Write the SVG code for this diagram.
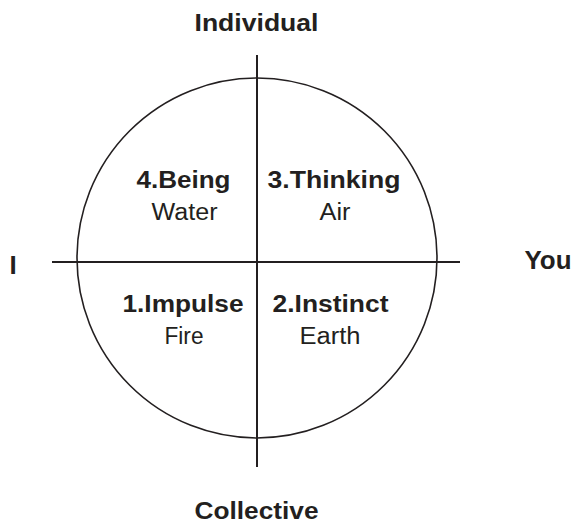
<svg xmlns="http://www.w3.org/2000/svg" width="573" height="523" viewBox="0 0 573 523">
<style>
.t{font-family:"Liberation Sans",Arial,Helvetica,sans-serif;fill:#231f20;font-size:23px}
.b{font-weight:bold}
.m{text-anchor:middle}
.ln{stroke:#231f20;fill:none}
</style>
<rect width="573" height="523" fill="#ffffff"/>
<g id="connectors">
<circle class="ln" cx="257" cy="258" r="180" stroke-width="1.6"/>
<line class="ln" x1="257" y1="55" x2="257" y2="467" stroke-width="2"/>
<line class="ln" x1="52" y1="262" x2="460" y2="262" stroke-width="2"/>
</g>
<g id="axis-individual"><text class="t b m" x="256.5" y="31" textLength="124" lengthAdjust="spacingAndGlyphs">Individual</text></g>
<g id="axis-collective"><text class="t b m" x="256.5" y="519" textLength="124" lengthAdjust="spacingAndGlyphs">Collective</text></g>
<g id="axis-i"><text class="t b" x="9.5" y="274" style="font-size:26px">I</text></g>
<g id="axis-you"><text class="t b" x="524.5" y="269" style="font-size:25px" textLength="47" lengthAdjust="spacingAndGlyphs">You</text></g>
<g id="q4">
<text class="t b m" x="183.5" y="188" textLength="94" lengthAdjust="spacingAndGlyphs">4.Being</text>
<text class="t m" x="184.5" y="220" textLength="66" lengthAdjust="spacingAndGlyphs">Water</text>
</g>
<g id="q3">
<text class="t b m" x="334" y="188" textLength="133" lengthAdjust="spacingAndGlyphs">3.Thinking</text>
<text class="t m" x="335" y="220" textLength="31" lengthAdjust="spacingAndGlyphs">Air</text>
</g>
<g id="q1">
<text class="t b m" x="183" y="312" textLength="121" lengthAdjust="spacingAndGlyphs">1.Impulse</text>
<text class="t m" x="184" y="344" textLength="39" lengthAdjust="spacingAndGlyphs">Fire</text>
</g>
<g id="q2">
<text class="t b m" x="330.5" y="312" textLength="116" lengthAdjust="spacingAndGlyphs">2.Instinct</text>
<text class="t m" x="330" y="344" textLength="61" lengthAdjust="spacingAndGlyphs">Earth</text>
</g>
</svg>
